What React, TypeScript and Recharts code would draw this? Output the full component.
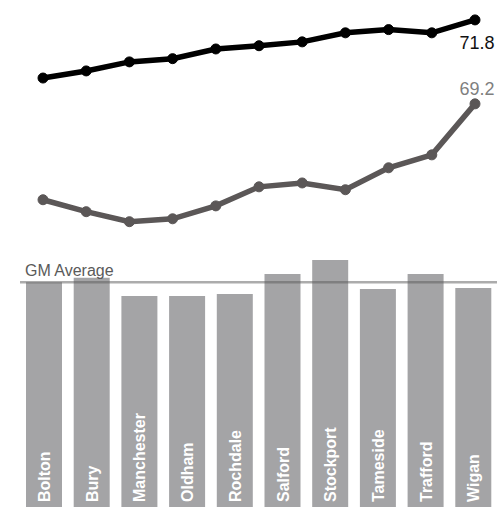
import React from 'react';
import { LineChart, Line, XAxis, YAxis, BarChart, Bar, ReferenceLine, LabelList } from 'recharts';

const periods = ['2007-09', '2008-10', '2009-11', '2010-12', '2011-13', '2012-14', '2013-15', '2014-16', '2015-17', '2016-18', '2017-19'];
const seriesA = [70.0, 70.22, 70.5, 70.6, 70.9, 71.0, 71.12, 71.4, 71.5, 71.4, 71.8];
const seriesB = [66.23, 65.86, 65.55, 65.64, 66.04, 66.63, 66.75, 66.54, 67.22, 67.62, 69.2];

const boroughs = ['Bolton', 'Bury', 'Manchester', 'Oldham', 'Rochdale', 'Salford', 'Stockport', 'Tameside', 'Trafford', 'Wigan'];
const boroughValues = [87.5, 89.2, 82.1, 82.1, 82.9, 90.7, 96.1, 84.8, 90.7, 85.2];
const gmAverage = 87.5;
const gmLabel = 'GM Average';

const lineData = periods.map((p, i) => ({ period: p, a: seriesA[i], b: seriesB[i] }));
const barData = boroughs.map((n, i) => ({ name: n, value: boroughValues[i] }));

const FONT = '"Liberation Sans", Arial, sans-serif';

const lastLabel = (n: number, dy: number, color: string) => (props: any) => {
  const { x, y, value, index } = props;
  if (index !== n - 1) return null;
  return (
    <text x={x + 2} y={y + dy} textAnchor="middle" fontSize={18} fontFamily={FONT} fill={color}>
      {value}
    </text>
  );
};

const barNameLabel = (props: any) => {
  const { x, y, width, height, value } = props;
  const cx = x + width / 2 + 6;
  const by = y + height - 5;
  return (
    <text
      x={cx}
      y={by}
      transform={`rotate(-90, ${cx}, ${by})`}
      textAnchor="start"
      fontSize={16}
      fontWeight="bold"
      fontFamily={FONT}
      fill="#ffffff"
    >
      {value}
    </text>
  );
};

const gmLabelContent = (props: any) => {
  const vb = props.viewBox || {};
  return (
    <text x={(vb.x ?? 20) + 5} y={(vb.y ?? 282) - 6} fontSize={16} fontFamily={FONT} fill="#5a5a5a">
      {gmLabel}
    </text>
  );
};

export default function App() {
  return (
    <div style={{ position: 'absolute', left: 0, top: 0, width: 497, height: 507, overflow: 'hidden', background: '#fff', fontFamily: FONT }}>
      <LineChart width={497} height={240} data={lineData} margin={{ top: 7, right: 22, left: 20, bottom: 7 }}>
        <XAxis dataKey="period" height={0} tick={false} tickLine={false} axisLine={{ stroke: '#f0f0f0' }} padding={{ left: 23, right: 0 }} />
        <YAxis width={0} domain={[65.2, 72.2]} tick={false} tickLine={false} axisLine={{ stroke: '#f0f0f0' }} />
        <Line dataKey="a" stroke="#000000" strokeWidth={5.5} dot={{ r: 5, fill: '#000000', stroke: '#000000', strokeWidth: 1 }} isAnimationActive={false}>
          <LabelList dataKey="a" content={lastLabel(seriesA.length, 29, '#111111')} />
        </Line>
        <Line dataKey="b" stroke="#5b5757" strokeWidth={5.5} dot={{ r: 5, fill: '#5b5757', stroke: '#5b5757', strokeWidth: 1 }} isAnimationActive={false}>
          <LabelList dataKey="b" content={lastLabel(seriesB.length, -9, '#7f7f7f')} />
        </Line>
      </LineChart>
      <BarChart width={497} height={267} data={barData} margin={{ top: 10, right: 0, left: 20, bottom: 0 }} barSize={36}>
        <XAxis dataKey="name" hide />
        <YAxis width={0} domain={[0, 100]} tick={false} tickLine={false} axisLine={{ stroke: '#f0f0f0' }} />
        <Bar dataKey="value" fill="#a4a4a6" isAnimationActive={false}>
          <LabelList dataKey="name" content={barNameLabel} />
        </Bar>
        <ReferenceLine y={gmAverage} stroke="rgba(90,90,90,0.5)" strokeWidth={2.5} label={gmLabelContent} />
      </BarChart>
    </div>
  );
}
